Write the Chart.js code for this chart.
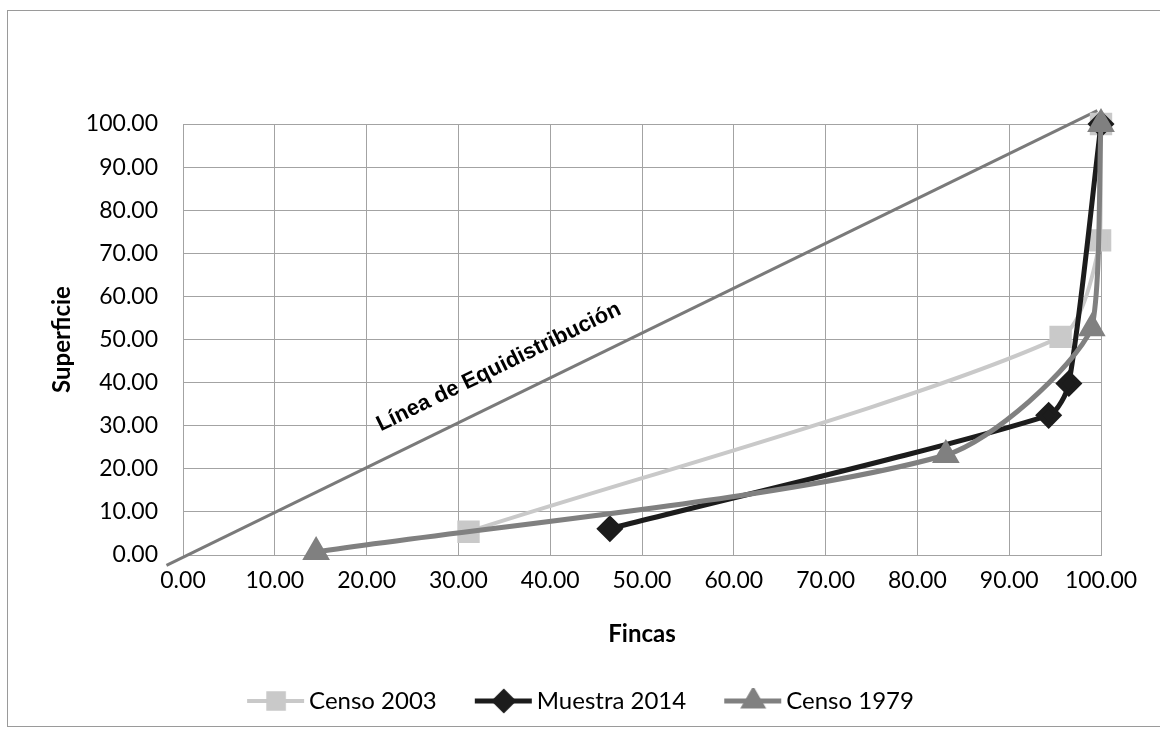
<!DOCTYPE html>
<html>
<head>
<meta charset="utf-8">
<script src="https://cdn.jsdelivr.net/npm/chart.js@4/dist/chart.umd.min.js"></script>
<style>
    html, body { margin: 0; padding: 0; background: #fff; }
    #wrap { width: 1160px; height: 740px; }
</style>
</head>
<body>
<div id="wrap"><canvas id="lorenzChart" width="1160" height="740"></canvas></div>
<script>
// values (% fincas, % superficie)
const censo2003X = [31.1, 95.6, 99.9, 100];
const censo2003Y = [5.4, 50.6, 73.0, 100];
const muestra2014X = [46.5, 94.3, 96.5, 100];
const muestra2014Y = [6.1, 32.4, 39.8, 100];
const censo1979X = [14.5, 83.1, 99.0, 100];
const censo1979Y = [0.7, 23.2, 52.6, 100];
const equiX = [-1.8, 99.6];
const equiY = [-2.4, 103.1];
const seriesNames = ['Censo 2003', 'Muestra 2014', 'Censo 1979'];
const axisTicks = [0, 10, 20, 30, 40, 50, 60, 70, 80, 90, 100];
const equiLabel = 'Línea de Equidistribución';

const toPoints = (xs, ys) => xs.map((x, i) => ({ x: x, y: ys[i] }));

// line+marker icons for the legend, like Excel draws them
// (drawn a bit to the right inside the canvas so the text sits close)
function legendIcon(color, width, style, r) {
    const c = document.createElement('canvas');
    c.width = 74;
    c.height = 26;
    const ctx = c.getContext('2d');
    ctx.strokeStyle = color;
    ctx.lineWidth = width;
    ctx.beginPath();
    ctx.moveTo(16, 13);
    ctx.lineTo(73, 13);
    ctx.stroke();
    Chart.helpers.drawPoint(ctx, { pointStyle: style, radius: r, borderWidth: 1 }, 45, 13);
    ctx.fillStyle = color;
    ctx.fill();
    return c;
}

const frame = {
    id: 'frame',
    beforeDraw(chart) {
        const ctx = chart.ctx;
        ctx.save();
        ctx.fillStyle = '#fff';
        ctx.fillRect(0, 0, chart.width, chart.height);
        ctx.strokeStyle = '#9a9a9a';
        ctx.lineWidth = 1;
        ctx.strokeRect(7.5, 10.5, 1160, 716);
        ctx.restore();
    }
};

const equiText = {
    id: 'equiText',
    afterDatasetsDraw(chart) {
        const xs = chart.scales.x, ys = chart.scales.y;
        const ctx = chart.ctx;
        const ang = Math.atan2(
            ys.getPixelForValue(equiY[1]) - ys.getPixelForValue(equiY[0]),
            xs.getPixelForValue(equiX[1]) - xs.getPixelForValue(equiX[0]));
        ctx.save();
        ctx.translate(xs.getPixelForValue(34.4), ys.getPixelForValue(43.6));
        ctx.rotate(ang);
        ctx.font = 'bold 22px "Liberation Sans", Arial, sans-serif';
        ctx.fillStyle = '#000';
        ctx.textAlign = 'center';
        ctx.textBaseline = 'middle';
        ctx.fillText(equiLabel, 0, 0);
        ctx.restore();
    }
};

document.addEventListener('DOMContentLoaded', () => {
    const icons = [
        legendIcon('#c9c9c9', 4, 'rect', 11),
        legendIcon('#1c1c1c', 5, 'rectRot', 9),
        legendIcon('#808080', 5, 'triangle', 10)
    ];
    const gridColor = '#a3a3a3';
    const tickFont = { family: 'Lato, "Open Sans", sans-serif', size: 23 };
    const titleFont = { family: 'Lato, "Open Sans", sans-serif', size: 24, weight: 'bold' };

    new Chart(document.getElementById('lorenzChart').getContext('2d'), {
        type: 'scatter',
        data: {
            datasets: [
                {
                    label: seriesNames[2],
                    data: toPoints(censo1979X, censo1979Y),
                    showLine: true,
                    borderColor: '#808080',
                    backgroundColor: '#808080',
                    borderWidth: 5,
                    pointStyle: 'triangle',
                    pointRadius: 11,
                    tension: 0.25,
                    clip: false
                },
                {
                    label: seriesNames[1],
                    data: toPoints(muestra2014X, muestra2014Y),
                    showLine: true,
                    borderColor: '#1c1c1c',
                    backgroundColor: '#1c1c1c',
                    borderWidth: 5,
                    pointStyle: 'rectRot',
                    pointRadius: 10,
                    tension: 0.25,
                    clip: false
                },
                {
                    label: seriesNames[0],
                    data: toPoints(censo2003X, censo2003Y),
                    showLine: true,
                    borderColor: '#c9c9c9',
                    backgroundColor: '#c9c9c9',
                    borderWidth: 4,
                    pointStyle: 'rect',
                    pointRadius: 13,
                    tension: 0.25,
                    clip: false
                },
                {
                    label: 'equi',
                    data: toPoints(equiX, equiY),
                    showLine: true,
                    borderColor: '#7a7a7a',
                    borderWidth: 3,
                    pointRadius: 0,
                    tension: 0,
                    clip: false
                }
            ]
        },
        options: {
            responsive: false,
            animation: false,
            layout: { padding: { left: 52, right: 59, top: 124, bottom: 17 } },
            scales: {
                x: {
                    type: 'linear',
                    min: 0,
                    max: 100,
                    afterBuildTicks: s => { s.ticks = axisTicks.map(v => ({ value: v })); },
                    afterFit: s => { s.height = 104; },
                    ticks: {
                        color: '#000',
                        font: tickFont,
                        padding: 12,
                        maxRotation: 0,
                        callback: v => Number(v).toFixed(2)
                    },
                    grid: { color: gridColor, lineWidth: 1, drawTicks: false },
                    border: { color: gridColor },
                    title: {
                        display: true,
                        text: 'Fincas',
                        color: '#000',
                        font: titleFont,
                        padding: { top: 0, bottom: 10 }
                    }
                },
                y: {
                    type: 'linear',
                    min: 0,
                    max: 100,
                    afterBuildTicks: s => { s.ticks = axisTicks.map(v => ({ value: v })); },
                    afterFit: s => { s.width = 131; },
                    ticks: {
                        color: '#000',
                        font: tickFont,
                        padding: 25,
                        callback: v => Number(v).toFixed(2)
                    },
                    grid: { color: gridColor, lineWidth: 1, drawTicks: false },
                    border: { color: gridColor },
                    title: {
                        display: true,
                        text: 'Superficie',
                        color: '#000',
                        font: titleFont,
                        padding: { top: -4, bottom: 0 }
                    }
                }
            },
            plugins: {
                tooltip: { enabled: false },
                legend: {
                    position: 'bottom',
                    labels: {
                        usePointStyle: true,
                        pointStyleWidth: 58,
                        boxWidth: 58,
                        boxHeight: 24,
                        padding: 30,
                        color: '#000',
                        font: { family: 'Lato, "Open Sans", sans-serif', size: 24 },
                        generateLabels: chart => {
                            const items = Chart.defaults.plugins.legend.labels.generateLabels(chart)
                                .filter(it => seriesNames.includes(it.text));
                            items.forEach(it => {
                                it.pointStyle = icons[seriesNames.indexOf(it.text)];
                                it.lineWidth = 0;
                            });
                            return items.sort((a, b) => seriesNames.indexOf(a.text) - seriesNames.indexOf(b.text));
                        }
                    }
                }
            }
        },
        plugins: [frame, equiText]
    });
});
</script>
</body>
</html>
